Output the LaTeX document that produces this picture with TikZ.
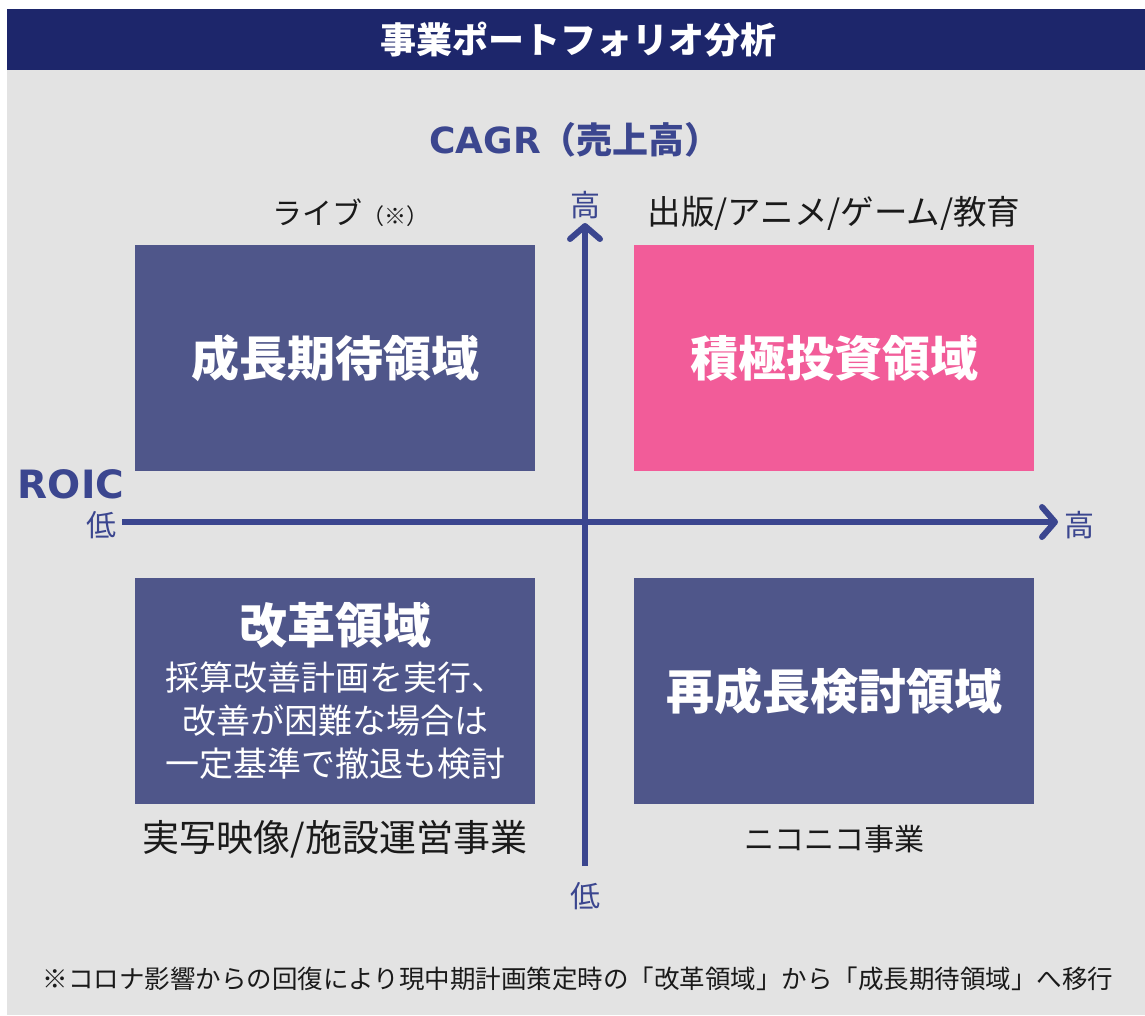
\documentclass[tikz,border=0pt]{standalone}
\usepackage{fontspec}
\setmainfont{Noto Sans CJK JP}
\newfontfamily\latinbold{DejaVu Sans}
\usetikzlibrary{arrows.meta}
\definecolor{titlenavy}{HTML}{1D266B}
\definecolor{bggray}{HTML}{E3E3E3}
\definecolor{boxnavy}{HTML}{4F568A}
\definecolor{boxpink}{HTML}{F25C99}
\definecolor{axisnavy}{HTML}{3B468F}
\definecolor{textdark}{HTML}{1A1A1A}
\newcommand{\fs}[1]{\fontsize{#1}{#1}\selectfont}
\tikzset{
  quad/.style={fill=boxnavy, draw=none, minimum width=400pt, minimum height=226pt, inner sep=0pt},
  quadtitle/.style={text=white, font=\fs{48}\bfseries, inner sep=0pt},
  axislabel/.style={text=axisnavy, font=\fs{30}, inner sep=0pt},
  biz/.style={text=textdark, inner sep=0pt, anchor=base},
  axisline/.style={draw=axisnavy, line width=6pt, -{Straight Barb[length=13pt,width=30pt,round]}},
}
\begin{document}
\begin{tikzpicture}[x=1pt,y=-1pt]
\useasboundingbox (0,0) rectangle (1145,1015);
\fill[white] (0,0) rectangle (1145,1015);
\fill[bggray] (7,70) rectangle (1145,1015);
\fill[titlenavy] (7,9) rectangle (1145,70);
\node[text=white, font=\fs{36}\bfseries, inner sep=0pt] (title) at (578,40) {事業ポートフォリオ分析};

% quadrants
\node[quad, anchor=north west] (q1) at (135,245) {};
\node[quad, anchor=north west, fill=boxpink] (q2) at (634,245) {};
\node[quad, anchor=north west] (q3) at (135,578) {};
\node[quad, anchor=north west] (q4) at (634,578) {};
\node[quadtitle] (t1) at (q1.center) {成長期待領域};
\node[quadtitle] (t2) at (q2.center) {積極投資領域};
\node[quadtitle] (t4) at (q4.center) {再成長検討領域};
\node[quadtitle] (t3) at (335,625) {改革領域};
\node[text=white, font=\fs{34}, inner sep=0pt, align=center] (t3b) at (335,721)
  {採算改善計画を実行、\\[9pt]改善が困難な場合は\\[9pt]一定基準で撤退も検討};

% axes
\coordinate (hstart) at (122,522);
\coordinate (hend) at (1058,522);
\coordinate (vstart) at (585,866);
\coordinate (vend) at (585,223);
\draw[axisline] (hstart) -- (hend);
\draw[axisline] (vstart) -- (vend);

% axis labels
\node[text=axisnavy, font=\fs{36}\bfseries, inner sep=0pt] (cagr) at (575,140) {{\latinbold CAGR}（売上高）};
\node[text=axisnavy, font=\latinbold\fs{39}\bfseries, inner sep=0pt] (roic) at (71,484) {ROIC};
\node[axislabel] (xlow) at (101,525) {低};
\node[axislabel] (xhigh) at (1079,525) {高};
\node[axislabel] (yhigh) at (585,205) {高};
\node[axislabel] (ylow) at (585,896) {低};

% business labels
\node[biz, font=\fs{30}] (live) at (350,224) {ライブ\fs{22}（※）};
\node[biz, font=\fs{33.5}] (pub) at (834,224) {出版/アニメ/ゲーム/教育};
\node[biz, font=\fs{37}] (film) at (335,851) {実写映像/施設運営事業};
\node[biz, font=\fs{30}] (nico) at (834,850) {ニコニコ事業};

% footnote
\node[biz, font=\fs{25.5}] (note) at (578,988) {※コロナ影響からの回復により現中期計画策定時の「改革領域」から「成長期待領域」へ移行};
\end{tikzpicture}
\end{document}
